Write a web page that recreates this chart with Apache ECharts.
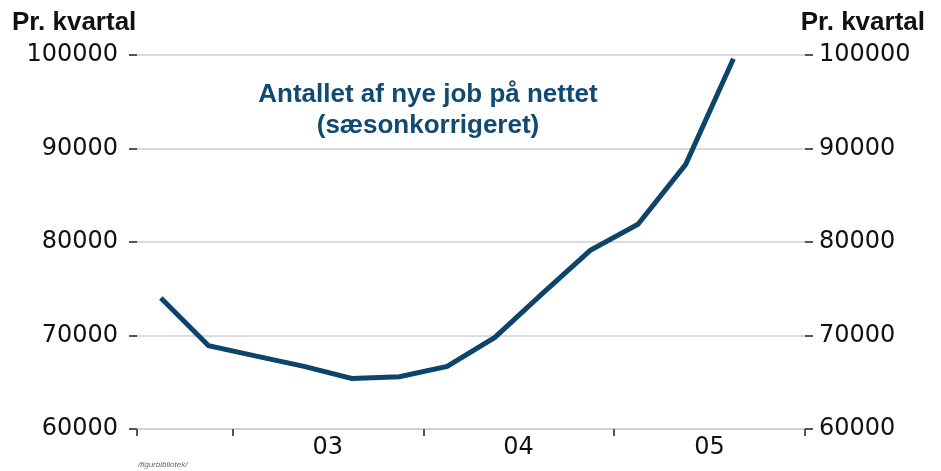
<!DOCTYPE html>
<html>
<head>
<meta charset="utf-8">
<script src="https://cdn.jsdelivr.net/npm/echarts@6/dist/echarts.min.js"></script>
<style>
  html, body { margin: 0; padding: 0; background: #fff; }
  #chart { width: 941px; height: 471px; }
</style>
</head>
<body>
<div id="chart"></div>
<script>
// kvartaler, 2002K3 - 2005K4
var quarters = ['2002K3', '2002K4', '2003K1', '2003K2', '2003K3', '2003K4',
  '2004K1', '2004K2', '2004K3', '2004K4', '2005K1', '2005K2', '2005K3', '2005K4'];
// antal nye job pr. kvartal (saesonkorrigeret)
var jobs = [74000, 68900, 67800, 66700, 65400, 65600,
  66700, 69800, 74500, 79100, 81900, 88300, 99600, null];
// aarstal vist under aksen (ved 2. kvartal, forskudt til midten af aaret)
var yearLabels = { 3: '03', 7: '04', 11: '05' };
var yearStarts = [0, 2, 6, 10];
var yTicks = { min: 60000, max: 100000, step: 10000 };

var titleColor = '#0f4a72';
var lineColor = '#0c4569';
var labelFont = '"DejaVu Sans", sans-serif';
var nameFont = '"Liberation Sans", sans-serif';

var myChart = echarts.init(document.getElementById('chart'), null, { renderer: 'canvas' });

function yAxisCfg(pos) {
  return {
    type: 'value',
    position: pos,
    min: yTicks.min,
    max: yTicks.max,
    interval: yTicks.step,
    axisLine: { show: false },
    axisTick: { show: true, length: 8, lineStyle: { color: '#555', width: 2 } },
    splitLine: pos == 'left' ? { show: true, lineStyle: { color: '#cfcfcf', width: 1.5 } } : { show: false },
    axisLabel: {
      margin: pos == 'left' ? 19 : 14,
      color: '#111',
      fontSize: 24,
      fontFamily: labelFont,
      formatter: function(v) {
        return '' + v;
      }
    }
  };
}

var option = {
  backgroundColor: '#fff',
  animation: false,
  grid: { left: 137, right: 136, top: 55, bottom: 42, containLabel: false },
  xAxis: {
    type: 'category',
    data: quarters,
    boundaryGap: true,
    axisLine: { show: true, lineStyle: { color: '#cfcfcf', width: 1.5 } },
    axisTick: {
      show: true,
      length: 7,
      lineStyle: { color: '#555', width: 2 },
      interval: function(idx) {
        return yearStarts.indexOf(idx) >= 0;
      }
    },
    axisLabel: {
      margin: 7,
      color: '#111',
      fontSize: 24,
      fontFamily: labelFont,
      interval: function(idx) {
        return yearLabels[idx] !== undefined;
      },
      formatter: function(v, idx) {
        return '{y|' + (yearLabels[idx] || '') + '}';
      },
      rich: {
        y: { padding: [0, 0, 0, 47.5], fontSize: 24, fontFamily: labelFont, color: '#111' }
      }
    },
    splitLine: { show: false }
  },
  yAxis: [yAxisCfg('left'), yAxisCfg('right')],
  graphic: [
    {
      type: 'text', left: 12, top: 10,
      style: { text: 'Pr. kvartal', fontSize: 26, fontWeight: 'bold', fontFamily: nameFont, fill: '#111' }
    },
    {
      type: 'text', right: 16, top: 10,
      style: { text: 'Pr. kvartal', fontSize: 26, fontWeight: 'bold', fontFamily: nameFont, fill: '#111' }
    },
    {
      type: 'text', x: 428, y: 79,
      style: {
        text: 'Antallet af nye job på nettet\n(sæsonkorrigeret)',
        align: 'center',
        lineHeight: 31,
        fontSize: 26,
        fontWeight: 'bold',
        fontFamily: nameFont,
        fill: titleColor
      }
    },
    {
      type: 'text', x: 138, y: 461,
      style: { text: '/figurbibliotek/', fontSize: 8, fontStyle: 'italic', fontFamily: nameFont, fill: '#666' }
    }
  ],
  series: [{
    type: 'line',
    data: jobs,
    yAxisIndex: 0,
    showSymbol: false,
    symbol: 'none',
    connectNulls: false,
    lineStyle: { color: lineColor, width: 5, cap: 'butt', join: 'miter' }
  }]
};

myChart.setOption(option);
</script>
</body>
</html>
